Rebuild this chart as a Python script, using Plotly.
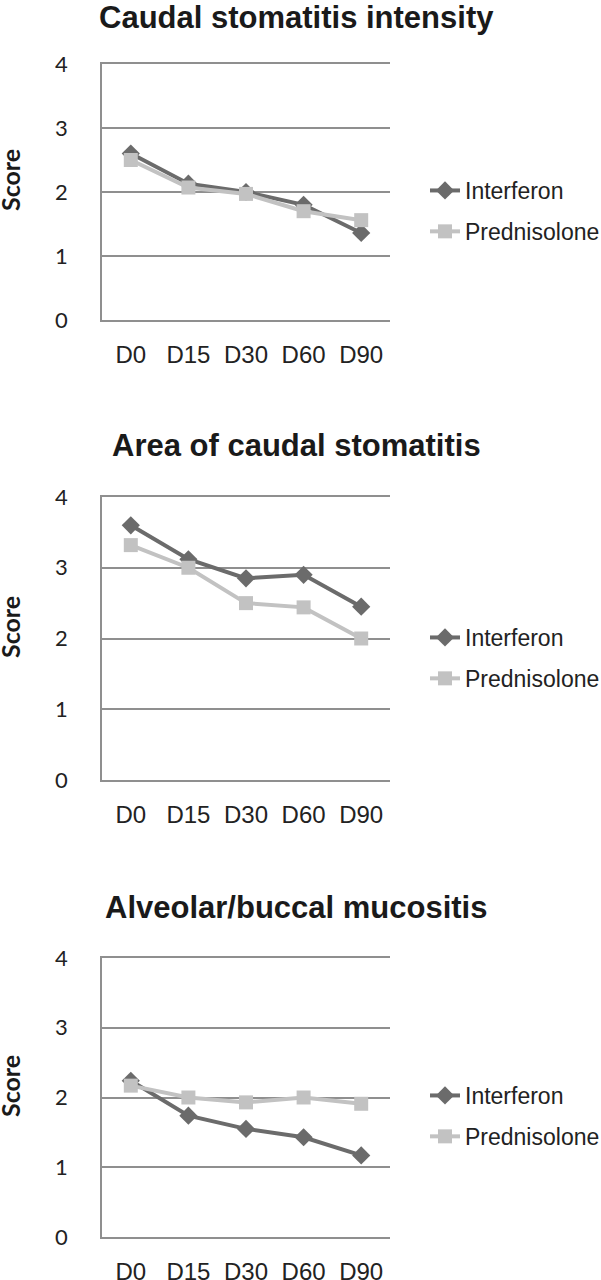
import plotly.graph_objects as go

days = ["D0", "D15", "D30", "D60", "D90"]

titles = ["Caudal stomatitis intensity", "Area of caudal stomatitis", "Alveolar/buccal mucositis"]

intensity_interferon = [2.6, 2.13, 2.0, 1.8, 1.36]
intensity_prednisolone = [2.5, 2.07, 1.97, 1.7, 1.56]

area_interferon = [3.6, 3.12, 2.85, 2.9, 2.45]
area_prednisolone = [3.32, 3.0, 2.5, 2.44, 2.0]

mucositis_interferon = [2.24, 1.74, 1.55, 1.43, 1.17]
mucositis_prednisolone = [2.17, 2.0, 1.93, 2.0, 1.91]

panels = [
    (intensity_interferon, intensity_prednisolone),
    (area_interferon, area_prednisolone),
    (mucositis_interferon, mucositis_prednisolone),
]

W, H = 601, 1280
# pixel layout of each panel: (plot top, plot bottom, title y, score y, legend y)
boxes = [
    (64, 320, 17, 180, 211),
    (497, 780, 446, 627, 658),
    (958, 1237, 907, 1086, 1116),
]
x_left, x_right = 102, 390

DARK = "#6b6b6b"
LIGHT = "#c2c2c2"
GRID = "#8f8f8f"


def py(px):
    return 1 - px / H


fig = go.Figure()
annotations = []
layout = {}

for i, ((interf, pred), (top, bottom, ty, sy, ly)) in enumerate(zip(panels, boxes)):
    n = "" if i == 0 else str(i + 1)
    leg = "legend" + n
    fig.add_trace(go.Scatter(
        x=days, y=interf, name="Interferon", mode="lines+markers",
        line=dict(color=DARK, width=4),
        marker=dict(symbol="diamond", size=14, color=DARK),
        xaxis="x" + n, yaxis="y" + n, legend=leg, legendgroup=f"i{i}",
    ))
    fig.add_trace(go.Scatter(
        x=days, y=pred, name="Prednisolone", mode="lines+markers",
        line=dict(color=LIGHT, width=4),
        marker=dict(symbol="square", size=14, color=LIGHT),
        xaxis="x" + n, yaxis="y" + n, legend=leg, legendgroup=f"p{i}",
    ))

    layout["xaxis" + n] = dict(
        domain=[x_left / W, x_right / W], anchor="y" + n,
        type="category", range=[-0.5, 4.5],
        showgrid=False, zeroline=False, ticks="",
        showline=True, mirror=True, linecolor=GRID, linewidth=1.5,
        tickfont=dict(family="Liberation Sans, Arial", size=24, color="#222"),
        ticklabelstandoff=12, automargin=False,
    )
    layout["yaxis" + n] = dict(
        domain=[py(bottom), py(top)], anchor="x" + n,
        range=[0, 4], dtick=1, tick0=0,
        showgrid=True, gridcolor=GRID, gridwidth=1.5,
        showline=True, linecolor=GRID, linewidth=1.5,
        zeroline=False, ticks="",
        tickfont=dict(family="Lato, Open Sans", size=22, color="#222"),
        ticklabelstandoff=28, automargin=False,
    )
    layout[leg] = dict(
        x=425 / W, xanchor="left", y=py(ly), yanchor="middle",
        font=dict(family="Liberation Sans, Arial", size=23, color="#222"),
        bgcolor="rgba(0,0,0,0)", tracegroupgap=8,
    )

    annotations.append(dict(
        text=f"<b>{titles[i]}</b>", x=296 / W, y=py(ty), xref="paper", yref="paper",
        xanchor="center", yanchor="middle", showarrow=False,
        font=dict(family="Liberation Sans, Arial", size=31, color="#1a1a1a"),
    ))
    annotations.append(dict(
        text="<b>Score</b>", x=10 / W, y=py(sy), xref="paper", yref="paper",
        xanchor="center", yanchor="middle", showarrow=False, textangle=-90,
        font=dict(family="Lato, Open Sans", size=25, color="#1a1a1a"),
    ))

fig.update_layout(
    width=W, height=H,
    margin=dict(l=0, r=0, t=0, b=0, autoexpand=False),
    paper_bgcolor="white", plot_bgcolor="white",
    showlegend=True,
    annotations=annotations,
    **layout,
)

# drop the default page margin so the figure sits at the window's corner
fig.write_html(
    "out.html",
    config={"displayModeBar": False},
    post_script="document.body.style.margin='0';",
)
